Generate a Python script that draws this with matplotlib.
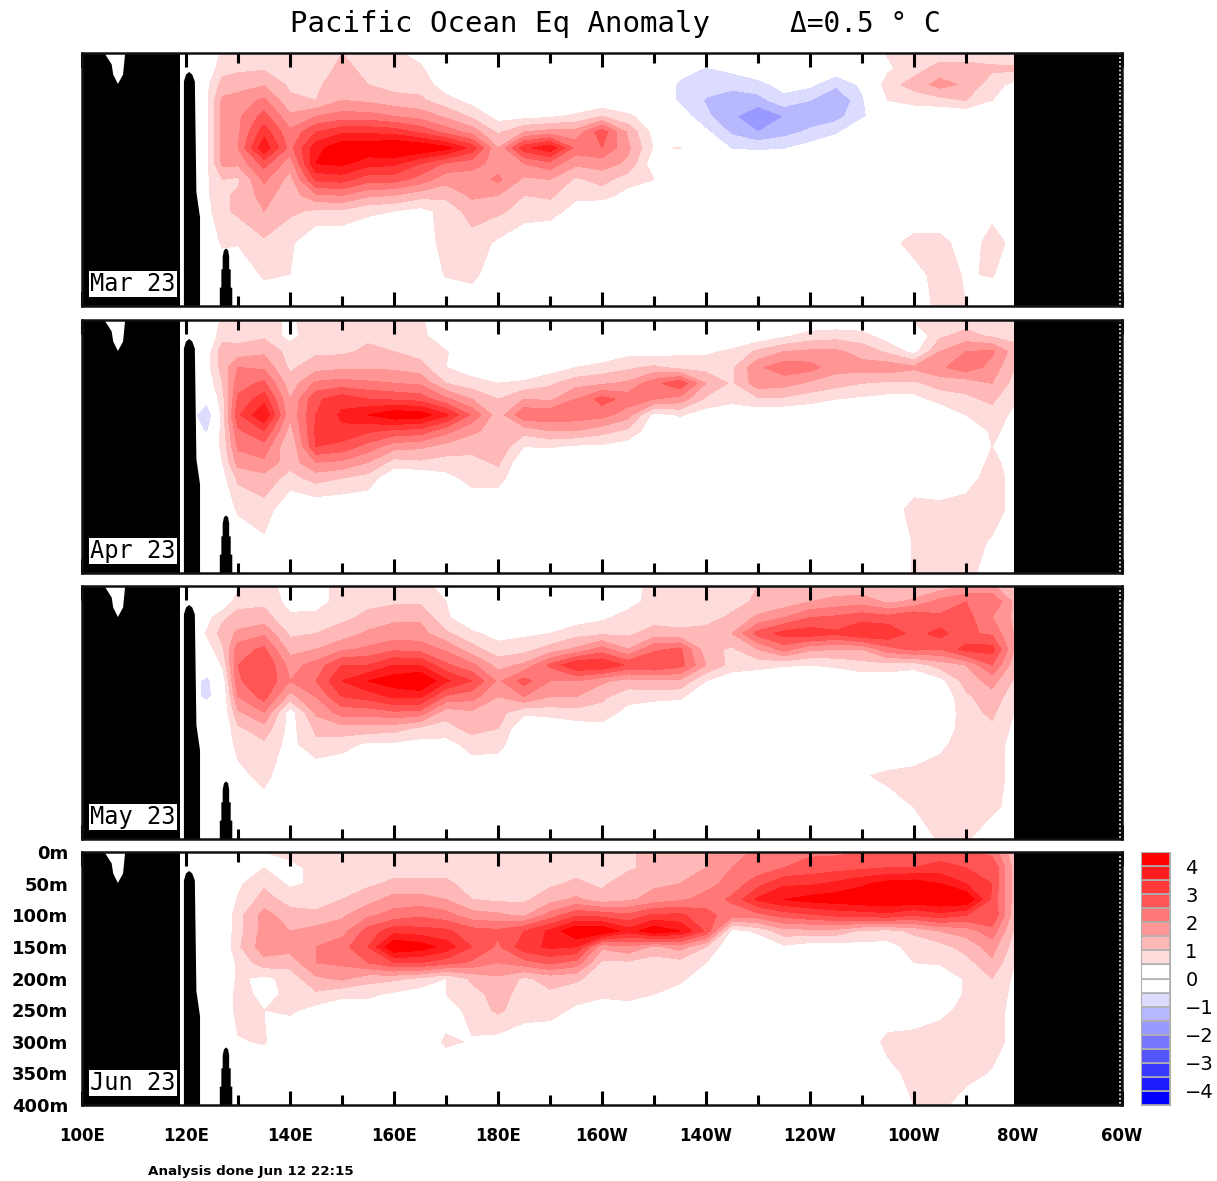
import matplotlib
matplotlib.use("Agg")
import matplotlib.pyplot as plt
import numpy as np

W, H = 1217, 1181
lons = [120, 124, 127, 130] + list(range(135, 285, 5))
depths = [0, 25, 50, 75, 100, 125, 150, 175, 200, 225, 250, 300, 350, 400]

# each inner list: anomaly profile at one longitude, from 0 m downward (missing tail = 0)
mar23 = [
 [0],
 [0,.1,.35,.4,.4,.4,.4,.4,.4,.4,.3],
 [.6,.8,1.2,1.6,1.7,1.7,1.7,1.6,1.0,.9,.9,.6],
 [.7,.9,1.3,1.7,1.9,1.9,2.0,1.6,.9,1.1,1.1,.55],
 [.8,.95,1.45,2.1,2.7,3.3,3.9,2.7,2.1,1.7,1.5,.9,.6],
 [.7,.7,.9,1.1,1.6,2.1,2.3,1.7,1.3,1.2,1.1,.6,.5],
 [.7,.8,.9,1.0,2.0,3.0,3.8,4.0,3.1,1.9,.9],
 [1,1.1,1.3,1.5,2.2,3.4,4.4,4.1,3.2,2.0,.9],
 [.8,.9,1,1.4,2.2,3.4,4.4,3.7,2.7,1.6,.6],
 [.6,.7,.8,1.2,2,3.3,4.6,3.6,2.7,1.5,.5],
 [.3,.6,.8,1.1,1.8,2.9,4.5,3.0,2.3,1.2,.3],
 [0,0,.2,.7,1.4,2.3,4.2,2.4,1.7,1.1,.7,.8,.55],
 [0,0,0,.3,.9,1.8,3.3,2.2,1.7,1.6,1.2,.8,.7],
 [0,0,0,0,.3,.9,1.5,1.8,2.1,1.5,1.1,.4],
 [0,0,0,0,.3,1.5,3.3,2,1.4,1,.8],
 [0,0,0,0,.4,1.7,3.9,2.3,1.5,1.1,.7],
 [0,0,0,0,.6,1.7,2.3,1.6,.9,.6,.3],
 [0,0,0,0,1.0,2.8,2.5,1.7,1.2,.7],
 [0,0,0,0,.6,1.4,1.6,1.4,.7,.3],
 [0,0,0,0,.2,.3,.45,.1,.5],
 [0,-.3,-.6,-.6,-.2,0,.52],
 [0,-.55,-.8,-1.05,-.9,-.4],
 [0,-.4,-.8,-1.4,-1.4,-1.1,-.55],
 [0,-.1,-.7,-1.2,-2,-1.5,-.6],
 [0,0,-.3,-.7,-1.5,-1.2,-.55],
 [0,0,-.4,-1,-1.3,-.9,-.3],
 [0,-.2,-.9,-1.55,-1.2,-.6],
 [0,0,-.4,-.6,-.6],
 [.55,.4,.8,.5,0,0,0,0,0,0,0,.3,0,0],
 [.8,.8,1.2,.7,0,0,0,0,0,0,0,.7,.3,.1],
 [.7,1.2,1.7,.8,0,0,0,0,0,0,0,.7,.7,.7],
 [.6,1.3,1.4,1,0,0,0,0,0,0,0,.2,.45,.5],
 [.7,1.1,.7,.5,0,0,0,0,0,0,.35,.7,.55,0],
 [.6,1.1,.3,0,0,0,0,0,0,0,0,.3,0,0],
]
apr23 = [
 [0],
 [0,0,.2,.3,.1,-.3,-1.05,-.6],
 [.6,.8,1.3,1.2,1.0,.8,.7,.7,.6,.5,.3],
 [.7,.8,1.2,2.0,2.3,2.6,2.9,2.4,2.1,1.7,1.1,.6],
 [.7,.9,1.4,1.9,2.6,3.3,4.0,3.0,2.3,1.9,1.3,.8,.4],
 [.4,.3,.8,.9,1.2,1.5,1.6,1.3,1.0,1.2,.8],
 [.8,.9,.9,1.3,2.1,2.9,3.0,3.1,3.0,2.0,1.2],
 [.8,.9,.9,1.4,2.2,3.3,3.6,3.4,2.8,1.9,1.0],
 [.8,.9,1.1,1.4,2.1,3.0,4.0,3.1,2.3,1.5,.8],
 [.7,.8,1.0,1.4,2.0,2.9,4.4,2.9,1.7,.8],
 [.6,.7,.8,1.2,1.9,2.8,4.3,2.8,1.6,.9],
 [0,0,.55,.5,1.0,2.1,3.6,2.2,1.3,.8,.3],
 [0,0,0,.2,.7,1.5,2.4,1.6,1.2,.8,.7],
 [0,0,0,0,.5,1.0,1.2,1.3,1.4,1.1,.7],
 [0,0,0,0,.6,1.5,2.4,1.2,.5],
 [0,0,0,.2,.9,1.4,2.4,1.5,.55],
 [0,0,0,.5,1.3,2.0,2.3,1.5,.4],
 [0,0,0,.7,1.4,2.7,2.2,1.2,.4],
 [0,0,.3,.9,1.6,2.3,1.7,.9,.2],
 [0,0,.2,1.1,2.3,2,.3,.1],
 [0,0,.4,.8,2.9,1.8,.55,.1],
 [0,0,.4,.8,1.5,.9,.2],
 [0,0,.6,.9,.9,.7],
 [0,.1,1.1,1.9,1.8,.9,.1],
 [0,.4,1.5,2.3,1.7,.9],
 [0,.7,1.6,2.2,1.4,.7],
 [0,.8,1.6,1.7,1.2,.5],
 [0,.7,1.3,1.7,1.0,.4],
 [0,.2,.9,1.8,.9,.3],
 [.55,0,.3,1.6,.9,.3,0,0,0,0,0,.8,.55,.55],
 [.7,.9,1.5,1.9,1.2,.7,0,0,0,0,0,.7,.7,.7],
 [.7,1.2,2.0,2.3,1.2,.9,.5,0,0,.2,.3,.7,.7,.7],
 [.8,.9,2.1,1.8,1.5,1.1,.8,.6,.5,.6,.7,.7,.45,.2],
 [.6,.9,1.1,.9,.7,.5,.3,.3,.3,.3,.3,.3,.3,0],
]
may23 = [
 [0],
 [0,0,.3,.55,.2,0,-.7,-.7],
 [0,0,.9,1.2,.9,.55,.1],
 [.4,.8,1.2,1.6,2.3,2.5,2.4,2.0,1.4,.9,.7,.3],
 [.7,.9,1.2,1.9,2.6,3.0,3.0,2.7,2.0,1.3,.9,.7,.2],
 [.3,.3,.6,.9,1.3,1.8,2.0,1.3,.2,.3,.3],
 [.4,.2,.7,1.0,1.5,2.2,2.5,2.0,1.6,1.1,.9],
 [.6,.8,.9,1.2,1.9,3.0,3.5,3.0,2.2,1.3,.7],
 [.8,.9,1.1,1.6,2.1,3.0,4.0,3.2,2.2,1.3,.4],
 [.8,.9,1.4,1.7,2.4,3.5,4.3,3.6,2.4,1.2,.4],
 [.8,.9,1.4,1.7,2.3,3.5,4.6,3.6,2.3,.9,.3],
 [.2,.5,.6,1.1,1.9,2.6,3.6,2.4,1.2,.8,.3],
 [0,0,0,.6,1.2,2.1,3.0,2.2,1.4,1.2,.7,.1],
 [0,0,0,.3,.7,1.3,1.9,1.5,1.2,1.0,.7],
 [0,0,0,.4,.8,1.6,2.7,2.0,.6],
 [0,0,0,.5,1.2,2.6,2.0,1.5,.7],
 [0,0,.2,.8,1.6,3.5,2.0,1.5,.8,.2],
 [0,.2,.4,.9,2.2,3.5,1.6,1.1,.8,.3],
 [.2,.3,.7,.9,1.5,2.9,1.3,.7,.3],
 [.7,.7,.8,1.2,2.4,3.0,1.4,.7],
 [.7,.7,.8,1.1,2.6,2.7,1.4,.6],
 [.7,.7,.8,1.2,1.2,1.5,.5],
 [.7,.8,1.1,1.5,.9,.8,.1],
 [1.0,1.1,1.6,2.7,1.5,.7],
 [1.1,1.2,2.0,3.2,2.2,.55],
 [1.2,1.5,2.5,3.3,1.6,.5],
 [1.1,1.7,2.6,3.1,1.5,.6],
 [1.1,1.8,2.8,3.5,1.5,.8,.1,0,0,0,0,.45],
 [.9,1.4,2.7,3.4,2.3,.8,.1,0,0,0,0,.6,.3],
 [1.1,1.6,3.0,2.8,2.6,.7,0,0,0,0,0,.7,.5,0],
 [1.2,2.2,2.6,3.2,2.5,1.2,.3,0,0,.2,.4,.7,.7,.6],
 [1.5,2.5,2.7,2.6,3.2,1.5,1.2,.9,.8,.7,.7,.7,.7,.55],
 [1.6,2.5,2.0,2.4,3.2,2.5,1.7,1.3,1.1,.9,.7,.7,.6,.2],
 [.7,1.2,1.3,1.3,1.2,1.0,.8,.6,.4,.3,.3,.3,.3,0],
]
jun23 = [
 [0],
 [0],
 [0],
 [0,.2,.4,.55,.8,.8,.9,.6,.6,.7,.7,.45],
 [.5,.5,.9,1.2,1.7,1.7,1.8,1.3,.35,.35,.5,.55],
 [.7,.3,.4,.8,1.2,1.5,1.7,1.2,.7,.6,.6],
 [.7,.7,.6,.8,1.1,1.7,2.0,2.0,1.4,.9,.3],
 [.7,.8,.9,1.0,1.4,1.8,2.3,2.1,1.6,.6,.2],
 [.8,.9,.9,1.3,1.9,2.7,3.0,2.5,1.2,.6,.2],
 [.8,.8,1.1,1.7,2.2,3.3,4.5,3.0,1.1,.4],
 [.7,.8,1.1,1.7,2.4,3.2,4.3,3.0,.9,.2],
 [.7,.8,1.1,1.5,2.2,3.1,3.8,2.7,.5,.5,.2,.6],
 [.7,.7,.8,1.0,1.7,2.7,3.0,2.4,1.1,.8,.7,.45],
 [.7,.7,.8,.9,1.6,2.6,2.4,2.0,1.4,1.2,1.1,.3],
 [.7,.7,.8,.9,1.4,3.0,3.3,2.3,.9,.8,.7,.2],
 [.7,.7,.9,1.3,2.2,3.6,3.6,2.6,1.2,.9,.7,.1],
 [.7,.8,1.1,1.6,2.9,4.5,3.5,2.3,1.1,.7,.4],
 [.8,.7,.9,1.2,2.8,4.5,1.6,.9,.7,.6,.2],
 [.9,.9,1.3,1.4,2.6,3.7,1.9,.9,.8,.7,.2],
 [1.2,1.2,1.4,1.7,3.1,4.4,1.4,.7,.7,.5,.1],
 [1.2,1.3,1.5,1.9,3.1,4.0,1.7,.8,.6,.3],
 [1.5,1.5,1.8,2.2,2.7,2.9,1.0,.5,.2],
 [1.8,2.0,2.2,2.6,2.2,.3],
 [2.1,2.2,2.8,3.6,2.3,.6],
 [2.2,2.5,3.4,4.0,2.7,1.3,.4],
 [2.4,2.7,3.4,4.2,2.9,1.3,.2],
 [2.4,2.8,3.6,4.3,3.1,1.3,.2],
 [2.5,2.9,3.9,4.4,3.2,.9,.3],
 [2.6,3.0,4.2,4.5,3.3,.8,.3,0,0,0,0,.7,.3,0],
 [2.6,3.0,4.3,4.4,3.0,1.1,.7,.5,0,0,0,.8,.7,.5],
 [2.7,3.2,4.0,4.5,3.3,1.5,.8,.55,.2,.2,.4,.7,.7,.65],
 [2.6,3.0,3.5,4.5,3.0,1.7,1.2,.8,.55,.55,.6,.7,.7,.2],
 [2.3,3.0,3.0,2.9,3.0,2.3,1.7,1.4,1.0,.8,.7,.7,.45,0],
 [1.0,1.0,1.0,1.0,.9,.7,.6,.4,.3,.3,.3,.3,.3,0],
]
panels = [("Mar 23", mar23), ("Apr 23", apr23), ("May 23", may23), ("Jun 23", jun23)]

levels = [-100, -4, -3.5, -3, -2.5, -2, -1.5, -1, -.5, 0, .5, 1, 1.5, 2, 2.5, 3, 3.5, 4, 100]
colors = ["#0000ff", "#1c1cff", "#3838ff", "#5555ff", "#7777ff", "#9999ff", "#b8b8ff", "#dcdcff",
          "#ffffff", "#ffffff",
          "#ffdcdc", "#ffb8b8", "#ff9595", "#ff7777", "#ff5555", "#ff3838", "#ff1c1c", "#ff0000"]

xticks_major = list(range(100, 320, 20))
xticks_minor = list(range(110, 300, 20))
xlabels = ["100E", "120E", "140E", "160E", "180E", "160W", "140W", "120W", "100W", "80W", "60W"]
ylabs = ["0m", "50m", "100m", "150m", "200m", "250m", "300m", "350m", "400m"]
yvals = [0, 50, 100, 150, 200, 250, 300, 350, 400]
cb_ticks = [4, 3, 2, 1, 0, -1, -2, -3, -4]

# land outlines in (longitude, depth)
west_land_lon = [100, 118.85, 118.85, 100]
west_land_dep = [0, 0, 400, 400]
notch_lon = [104.3, 105.7, 106.0, 106.9, 107.9, 108.3]
notch_dep = [0, 18, 34, 49, 34, 0]
spike1_lon = [119.6, 119.6, 120.0, 120.6, 121.2, 121.7, 122.0, 122.7, 122.7]
spike1_dep = [400, 45, 34, 30, 34, 45, 220, 260, 400]
spike2_lon = [126.5, 126.5, 126.8, 126.8, 127.05, 127.05, 127.3, 127.7, 128.1, 128.3, 128.3, 128.6, 128.6, 128.9, 128.9]
spike2_dep = [400, 371, 371, 342, 342, 322, 312, 309, 312, 322, 342, 342, 371, 371, 400]
east_land_lon = [279.2, 300, 300, 279.2]
east_land_dep = [0, 0, 400, 400]

fig = plt.figure(figsize=(W / 100, H / 100), dpi=100, facecolor="white")

def axpix(l, t, r, b):
    return fig.add_axes([l / W, 1 - b / H, (r - l) / W, (b - t) / H])

tops = [53, 320, 586, 852]
for (name, cols), top in zip(panels, tops):
    ax = axpix(82, top, 1122, top + 253)
    z = np.array([c + [0] * (len(depths) - len(c)) for c in cols], float).T
    ax.contourf(lons, depths, z, levels=levels, colors=colors, zorder=1)
    ax.fill(west_land_lon, west_land_dep, "k", lw=0, zorder=3)
    ax.fill(notch_lon, notch_dep, "w", lw=0, zorder=4)
    ax.fill(spike1_lon, spike1_dep, "k", lw=0, zorder=3)
    ax.fill(spike2_lon, spike2_dep, "k", lw=0, zorder=3)
    ax.fill(east_land_lon, east_land_dep, "k", lw=0, zorder=3)
    ax.plot([299.6, 299.6], [0, 400], color="w", lw=1.2, ls=(0, (1, 1.5)), zorder=6)
    ax.set_xlim(100, 300)
    ax.set_ylim(400, 0)
    ax.set_xticks(xticks_major)
    ax.set_xticks(xticks_minor, minor=True)
    ax.tick_params(axis="x", which="major", direction="in", top=True, bottom=True, length=10, width=2.2,
                   labelbottom=False)
    ax.tick_params(axis="x", which="minor", direction="in", top=True, bottom=True, length=7, width=2.2)
    ax.set_yticks([])
    for s in ax.spines.values():
        s.set_linewidth(1.8)
        s.set_color("#111111")
        s.set_zorder(7)
    ax.set_axisbelow(False)
    ax.text((133 - 82) / 1040, 22 / 253, name, transform=ax.transAxes,
            family="DejaVu Sans Mono", fontsize=17, ha="center", va="center", color="k", zorder=9,
            bbox=dict(boxstyle="square,pad=0.06", fc="w", ec="none"))
    if name == "Jun 23":
        ax.set_xticks(xticks_major, labels=xlabels)
        ax.tick_params(axis="x", which="major", labelbottom=True, labelsize=12, pad=16)
        for t in ax.get_xticklabels():
            t.set_fontweight("bold")
        ax.set_yticks(yvals, labels=ylabs, fontsize=13, fontweight="bold")
        ax.tick_params(axis="y", which="major", length=0, pad=10)

# colour bar
cax = axpix(1141, 852, 1170, 1105)
edges = np.array(levels, float)
edges[0], edges[-1] = -4.5, 4.5
for lo, hi, c in zip(edges[:-1], edges[1:], colors):
    cax.barh((lo + hi) / 2, 1, height=hi - lo, color=c, edgecolor="#b0b0b0", linewidth=1.2)
cax.set_xlim(0, 1)
cax.set_ylim(-4.5, 4.5)
cax.set_xticks([])
cax.set_yticks(cb_ticks, labels=[str(v).replace("-", "\u2212") for v in cb_ticks], fontsize=14)
cax.yaxis.tick_right()
cax.tick_params(axis="y", length=0, pad=11)
for s in cax.spines.values():
    s.set_color("#b0b0b0")

fig.text(290 / W, 1 - 24 / H, "Pacific Ocean Eq Anomaly", family="DejaVu Sans Mono", fontsize=21,
         ha="left", va="center", color="k")
fig.text(790 / W, 1 - 24 / H, "\u0394=0.5 \u00b0 C", family="DejaVu Sans Mono", fontsize=20,
         ha="left", va="center", color="k")
fig.text(148 / W, 1 - 1172 / H, "Analysis done Jun 12 22:15", fontsize=9.7, fontweight="bold",
         ha="left", va="center", color="k")

fig.savefig("out.png", dpi=100, facecolor="white")
